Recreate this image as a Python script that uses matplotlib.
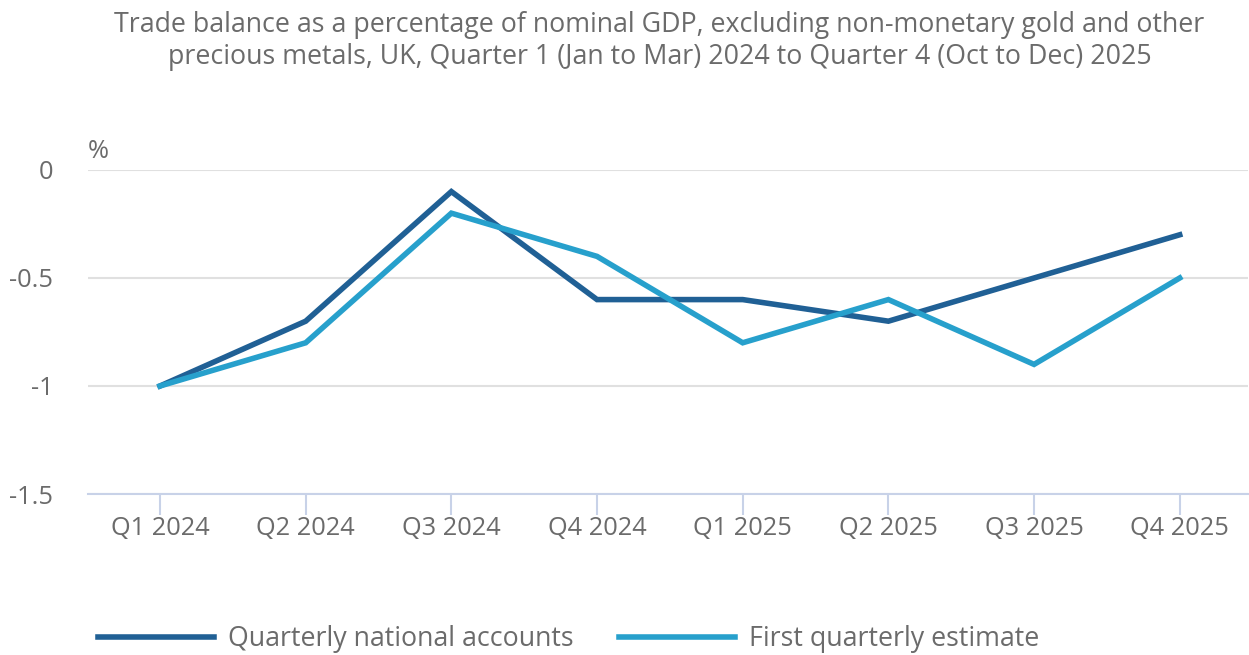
import matplotlib
matplotlib.use("Agg")
import matplotlib.pyplot as plt

plt.rcParams['font.family'] = ['Open Sans', 'DejaVu Sans']

# Data
quarters = ["Q1 2024", "Q2 2024", "Q3 2024", "Q4 2024",
            "Q1 2025", "Q2 2025", "Q3 2025", "Q4 2025"]
qna = [-1.0, -0.7, -0.1, -0.6, -0.6, -0.7, -0.5, -0.3]
fqe = [-1.0, -0.8, -0.2, -0.4, -0.8, -0.6, -0.9, -0.5]
yticks = [0, -0.5, -1, -1.5]
ytick_labels = ["0", "-0.5", "-1", "-1.5"]

dark = "#206095"
light = "#27a0cc"
grey_text = "#6b6b6b"

fig = plt.figure(figsize=(12.49, 6.55), dpi=100)
ax = fig.add_axes([0.0705, 0.2458, 0.9285, 0.4947])

x = list(range(len(quarters)))
ax.plot(x, qna, color=dark, lw=4, label="Quarterly national accounts",
        solid_joinstyle="miter", zorder=3)
ax.plot(x, fqe, color=light, lw=4, label="First quarterly estimate",
        solid_joinstyle="miter", zorder=3)

ax.set_xlim(-0.494, 7.467)
ax.set_ylim(-1.5, 0)
ax.set_yticks(yticks)
ax.set_yticklabels(ytick_labels)
ax.set_xticks(x)
ax.set_xticklabels(quarters)

for s in ["top", "right", "left"]:
    ax.spines[s].set_visible(False)
ax.spines["bottom"].set_color("#c8d2e8")
ax.spines["bottom"].set_linewidth(1.5)

ax.grid(axis="y", color="#e0e0e0", lw=1.5)
ax.set_axisbelow(True)
ax.tick_params(axis="y", length=0, pad=25, labelsize=18.3, labelcolor=grey_text)
ax.tick_params(axis="x", length=15, width=1.5, color="#c8d2e8", pad=1,
               labelsize=18.3, labelcolor=grey_text)

fig.text(0.0705, 0.768, "%", fontsize=18.3, color=grey_text, ha="left", va="center")

fig.text(0.528, 0.938,
         "Trade balance as a percentage of nominal GDP, excluding non-monetary gold and other\n"
         "precious metals, UK, Quarter 1 (Jan to Mar) 2024 to Quarter 4 (Oct to Dec) 2025",
         fontsize=19.3, color=grey_text, ha="center", va="center", linespacing=1.2)

leg = fig.legend(loc="center left", bbox_to_anchor=(0.0786, 0.024), ncol=2,
                 frameon=False, fontsize=19.3, handlelength=4.33, handletextpad=0.52,
                 columnspacing=1.68, borderaxespad=0, borderpad=0)
for t in leg.get_texts():
    t.set_color(grey_text)

fig.savefig("out.png", dpi=100)
